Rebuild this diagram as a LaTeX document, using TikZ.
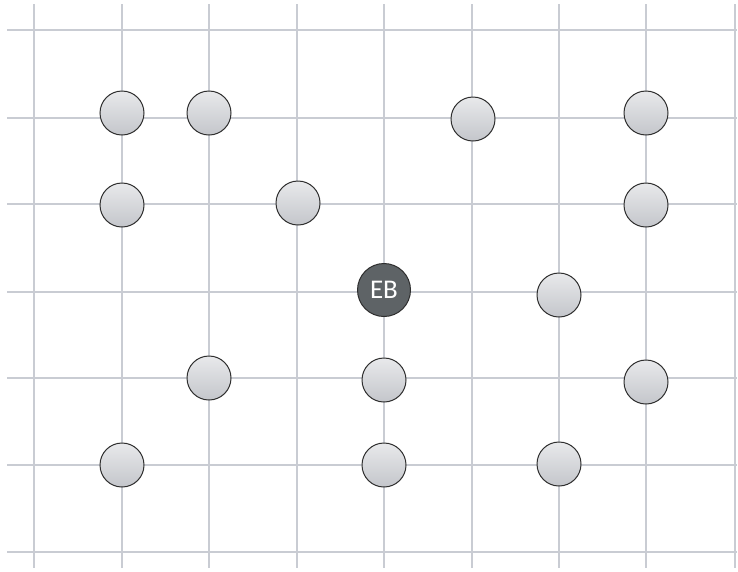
\documentclass[tikz,border=0pt]{standalone}
\usepackage{fontspec}
\setmainfont{Carlito}
\definecolor{gridc}{HTML}{C9CCD3}
\definecolor{toptone}{HTML}{E8E9EB}
\definecolor{bottone}{HTML}{C4C6CB}
\definecolor{ebfill}{HTML}{5E6366}
\definecolor{rimc}{HTML}{2E2E2E}
\tikzset{
  gridline/.style={draw=gridc, line width=1.3pt},
  dot/.style={circle, draw=rimc, line width=1pt, minimum size=44pt, inner sep=0pt,
    top color=toptone, bottom color=bottone},
  ebdot/.style={circle, draw=rimc, line width=1pt, minimum size=53pt, inner sep=0pt,
    fill=ebfill, text=white, font=\fontsize{27}{30}\selectfont}
}
\begin{document}
\begin{tikzpicture}[x=1pt,y=-1pt]
\useasboundingbox (0,0) rectangle (738,571);
% grid
\foreach \gx in {34,122,209,297,384,472,559,646,735}
  \draw[gridline] (\gx,4) -- (\gx,568);
\foreach \gy in {30,118,204,292,378,465,552}
  \draw[gridline] (7,\gy) -- (737,\gy);
% nodes
\node[dot] (a1) at (122,113) {};
\node[dot] (a2) at (209,113) {};
\node[dot] (a3) at (473,119) {};
\node[dot] (a4) at (646,113) {};
\node[dot] (b1) at (122,205) {};
\node[dot] (b2) at (298,203) {};
\node[dot] (b3) at (646,205) {};
\node[ebdot] (eb) at (384,290) {EB};
\node[dot] (c1) at (559,295) {};
\node[dot] (d1) at (209,378) {};
\node[dot] (d2) at (384,380) {};
\node[dot] (d3) at (646,382) {};
\node[dot] (e1) at (122,465) {};
\node[dot] (e2) at (384,465) {};
\node[dot] (e3) at (559,464) {};
\end{tikzpicture}
\end{document}
